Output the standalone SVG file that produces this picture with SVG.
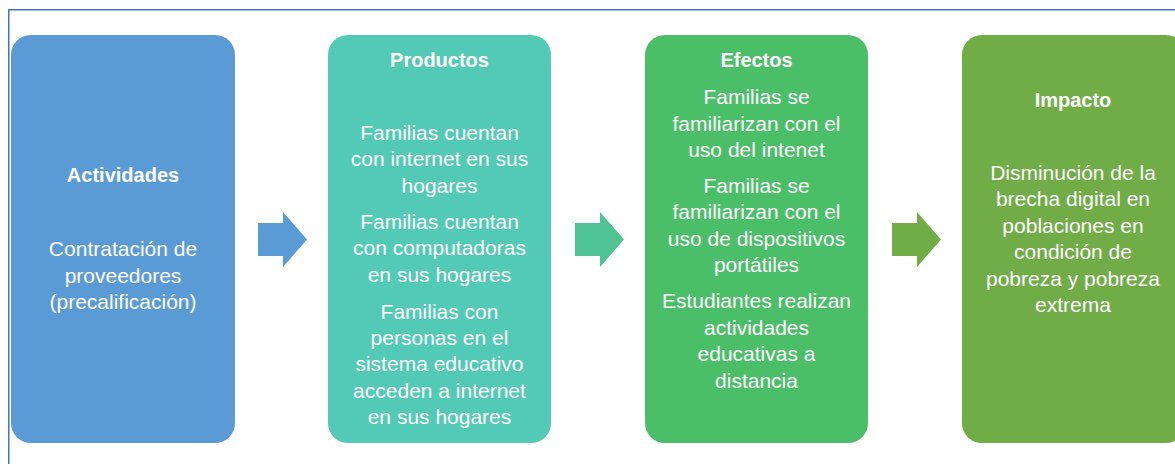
<svg xmlns="http://www.w3.org/2000/svg" width="1175" height="464" viewBox="0 0 1175 464">
<style>
.box{stroke:none}
.t{font-family:"Liberation Sans",Arial,sans-serif;fill:#ffffff;text-anchor:middle}
.h{font-size:20px;font-weight:bold}
.b{font-size:21px}
</style>
<rect x="0" y="0" width="1175" height="464" fill="#ffffff"/>
<path d="M8.75,464 V9.75 H1175" fill="none" stroke="#4472C4" stroke-width="1.5"/>
<g id="connectors">
<polygon points="258,223 283,223 283,212 307,239.5 283,267 283,256 258,256" fill="#5B9BD5"/>
<polygon points="575,223 600,223 600,212 624,239.5 600,267 600,256 575,256" fill="#4FC492"/>
<polygon points="892,223 917,223 917,212 941,239.5 917,267 917,256 892,256" fill="#70AD47"/>
</g>
<g id="actividades">
<rect class="box" x="11" y="35" width="224" height="408" rx="20" fill="#5B9BD5"/>
<text class="t h" x="123" y="182">Actividades</text>
<text class="t b" x="123" y="256">Contratación de</text>
<text class="t b" x="123" y="283">proveedores</text>
<text class="t b" x="123" y="309">(precalificación)</text>
</g>
<g id="productos">
<rect class="box" x="328" y="35" width="223" height="408" rx="20" fill="#53CAB6"/>
<text class="t h" x="439.5" y="67">Productos</text>
<text class="t b" x="439.5" y="140">Familias cuentan</text>
<text class="t b" x="439.5" y="166">con internet en sus</text>
<text class="t b" x="439.5" y="193">hogares</text>
<text class="t b" x="439.5" y="229">Familias cuentan</text>
<text class="t b" x="439.5" y="255">con computadoras</text>
<text class="t b" x="439.5" y="282">en sus hogares</text>
<text class="t b" x="439.5" y="319">Familias con</text>
<text class="t b" x="439.5" y="345">personas en el</text>
<text class="t b" x="439.5" y="371">sistema educativo</text>
<text class="t b" x="439.5" y="398">acceden a internet</text>
<text class="t b" x="439.5" y="424">en sus hogares</text>
</g>
<g id="efectos">
<rect class="box" x="645" y="35" width="223" height="408" rx="20" fill="#4BBF68"/>
<text class="t h" x="756.5" y="67">Efectos</text>
<text class="t b" x="756.5" y="104">Familias se</text>
<text class="t b" x="756.5" y="131">familiarizan con el</text>
<text class="t b" x="756.5" y="157">uso del intenet</text>
<text class="t b" x="756.5" y="193">Familias se</text>
<text class="t b" x="756.5" y="219">familiarizan con el</text>
<text class="t b" x="756.5" y="246">uso de dispositivos</text>
<text class="t b" x="756.5" y="272">portátiles</text>
<text class="t b" x="756.5" y="308">Estudiantes realizan</text>
<text class="t b" x="756.5" y="335">actividades</text>
<text class="t b" x="756.5" y="361">educativas a</text>
<text class="t b" x="756.5" y="388">distancia</text>
</g>
<g id="impacto">
<rect class="box" x="962" y="35" width="224" height="408" rx="20" fill="#70AD47"/>
<text class="t h" x="1073" y="107">Impacto</text>
<text class="t b" x="1073" y="180">Disminución de la</text>
<text class="t b" x="1073" y="206">brecha digital en</text>
<text class="t b" x="1073" y="233">poblaciones en</text>
<text class="t b" x="1073" y="259">condición de</text>
<text class="t b" x="1073" y="286">pobreza y pobreza</text>
<text class="t b" x="1073" y="312">extrema</text>
</g>
</svg>
